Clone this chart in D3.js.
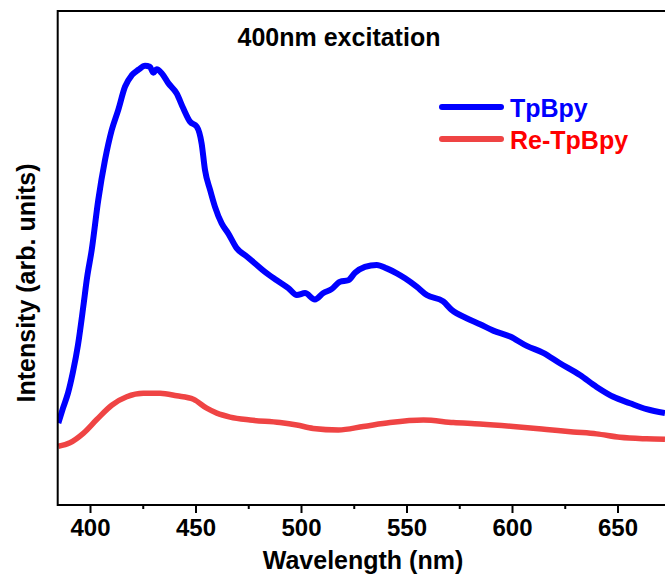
<!DOCTYPE html>
<html><head><meta charset="utf-8">
<script src="https://cdn.jsdelivr.net/npm/d3@7"></script>
<style>html,body{margin:0;padding:0;background:#fff;}</style>
</head><body>
<svg id="chart" width="665" height="577"></svg>
<script>
// Wavelength (nm) and intensity (arb. units, 0-100 scale)
const tpbpyWavelength = [385.0,387.2,389.6,391.9,394.3,396.8,398.6,400.8,403.9,407.1,410.3,413.4,416.6,419.8,422.9,426.1,428.4,430.0,431.6,434.0,437.1,441.1,444.2,447.4,450.6,452.9,454.5,456.9,459.2,462.4,465.5,469.5,474.3,478.2,482.9,488.5,494.0,498.0,501.9,506.6,510.6,514.5,518.5,522.4,525.6,530.3,535.9,540.6,545.4,549.3,554.8,559.6,567.4,571.4,578.5,584.8,591.1,599.1,607.0,614.8,622.7,632.2,640.1,648.0,655.9,663.8,672.5];
const tpbpyIntensity = [16.6,19.6,22.7,26.9,32.4,40.1,46.0,51.6,61.7,69.8,75.9,80.0,84.7,87.0,88.1,88.9,88.7,87.5,88.2,87.4,85.4,83.3,80.3,77.6,76.6,73.2,67.8,63.8,60.4,57.0,55.0,52.0,50.3,48.9,47.2,45.5,43.9,42.5,42.9,41.6,42.9,43.7,45.2,45.5,47.0,48.2,48.6,47.9,46.9,45.9,44.2,42.5,41.2,39.5,37.8,36.6,35.3,34.1,32.2,30.8,28.7,26.3,23.9,21.9,20.6,19.4,18.6];
const reTpbpyWavelength = [385.0,390.5,396.8,403.2,410.3,417.4,425.3,433.2,441.1,449.0,455.3,460.1,466.4,475.8,490.0,498.0,505.8,517.7,529.5,542.2,558.0,572.2,584.8,600.6,616.4,629.0,640.1,651.2,663.8,672.5];
const reTpbpyIntensity = [11.9,12.6,14.5,17.3,20.2,21.9,22.6,22.6,22.1,21.4,19.6,18.6,17.8,17.2,16.7,16.2,15.5,15.2,15.9,16.7,17.2,16.7,16.4,15.9,15.3,14.8,14.4,13.7,13.4,13.3];
const seriesNames = ["TpBpy", "Re-TpBpy"];
const xTicks = [400, 450, 500, 550, 600, 650];
const xMinorTicks = [425, 475, 525, 575, 625, 675];
const chartTitle = "400nm excitation";
const xLabel = "Wavelength (nm)";
const yLabel = "Intensity (arb. units)";

const svg = d3.select("#chart");
const L = 57.7, R = 670, T = 11, B = 505;
const x = d3.scaleLinear().domain([400, 650]).range([90, 617.5]);
const xDomMin = x.invert(L), xDomMax = x.invert(R);
x.domain([xDomMin, xDomMax]).range([L, R]);
const y = d3.scaleLinear().domain([0, 100]).range([B, T]);

const colors = ["#0000ff", "#ef4444"];
const textColors = ["#0000ff", "#ff0000"];
const font = "'Liberation Sans', Arial, sans-serif";

svg.append("defs").append("clipPath").attr("id", "clip")
  .append("rect").attr("x", L).attr("y", T).attr("width", R - L).attr("height", B - T);

const line = d3.line().x(d => x(d[0])).y(d => y(d[1])).curve(d3.curveMonotoneX);
const s1 = tpbpyWavelength.map((w, i) => [w, tpbpyIntensity[i]]);
const s2 = reTpbpyWavelength.map((w, i) => [w, reTpbpyIntensity[i]]);

const g = svg.append("g").attr("clip-path", "url(#clip)");
g.append("path").datum(s2).attr("d", line).attr("fill", "none")
  .attr("stroke", colors[1]).attr("stroke-width", 5.5).attr("stroke-linejoin", "round");
g.append("path").datum(s1).attr("d", line).attr("fill", "none")
  .attr("stroke", colors[0]).attr("stroke-width", 6).attr("stroke-linejoin", "round");

// frame
svg.append("rect").attr("x", L).attr("y", T).attr("width", R - L).attr("height", B - T)
  .attr("fill", "none").attr("stroke", "#000").attr("stroke-width", 2);

// x axis
const xAxis = d3.axisBottom(x).tickValues(xTicks).tickSize(8).tickPadding(6).tickFormat(d3.format("d"));
const ax = svg.append("g").attr("transform", `translate(0,${B})`).call(xAxis);
ax.select(".domain").remove();
ax.selectAll(".tick line").attr("stroke", "#000").attr("stroke-width", 2);
ax.selectAll(".tick text").attr("font-family", font).attr("font-weight", "bold")
  .attr("font-size", 24).attr("fill", "#000");
const minor = d3.axisBottom(x).tickValues(xMinorTicks.filter(v => v < xDomMax)).tickSize(4).tickFormat("");
const amin = svg.append("g").attr("transform", `translate(0,${B})`).call(minor);
amin.select(".domain").remove();
amin.selectAll(".tick line").attr("stroke", "#000").attr("stroke-width", 2);

// labels
svg.append("text").attr("x", 363).attr("y", 569).attr("text-anchor", "middle")
  .attr("font-family", font).attr("font-weight", "bold").attr("font-size", 25).text(xLabel);
svg.append("text").attr("transform", "translate(35,283) rotate(-90)").attr("text-anchor", "middle")
  .attr("font-family", font).attr("font-weight", "bold").attr("font-size", 25).text(yLabel);
svg.append("text").attr("x", 339).attr("y", 46).attr("text-anchor", "middle")
  .attr("font-family", font).attr("font-weight", "bold").attr("font-size", 25).text(chartTitle);

// legend
const legY = [107, 139];
seriesNames.forEach((n, i) => {
  svg.append("line").attr("x1", 442).attr("x2", 501).attr("y1", legY[i]).attr("y2", legY[i])
    .attr("stroke", colors[i]).attr("stroke-width", 6).attr("stroke-linecap", "round");
  svg.append("text").attr("x", 510).attr("y", legY[i] + 10).attr("font-family", font)
    .attr("font-weight", "bold").attr("font-size", 25).attr("fill", textColors[i]).text(n);
});
</script>
</body></html>
